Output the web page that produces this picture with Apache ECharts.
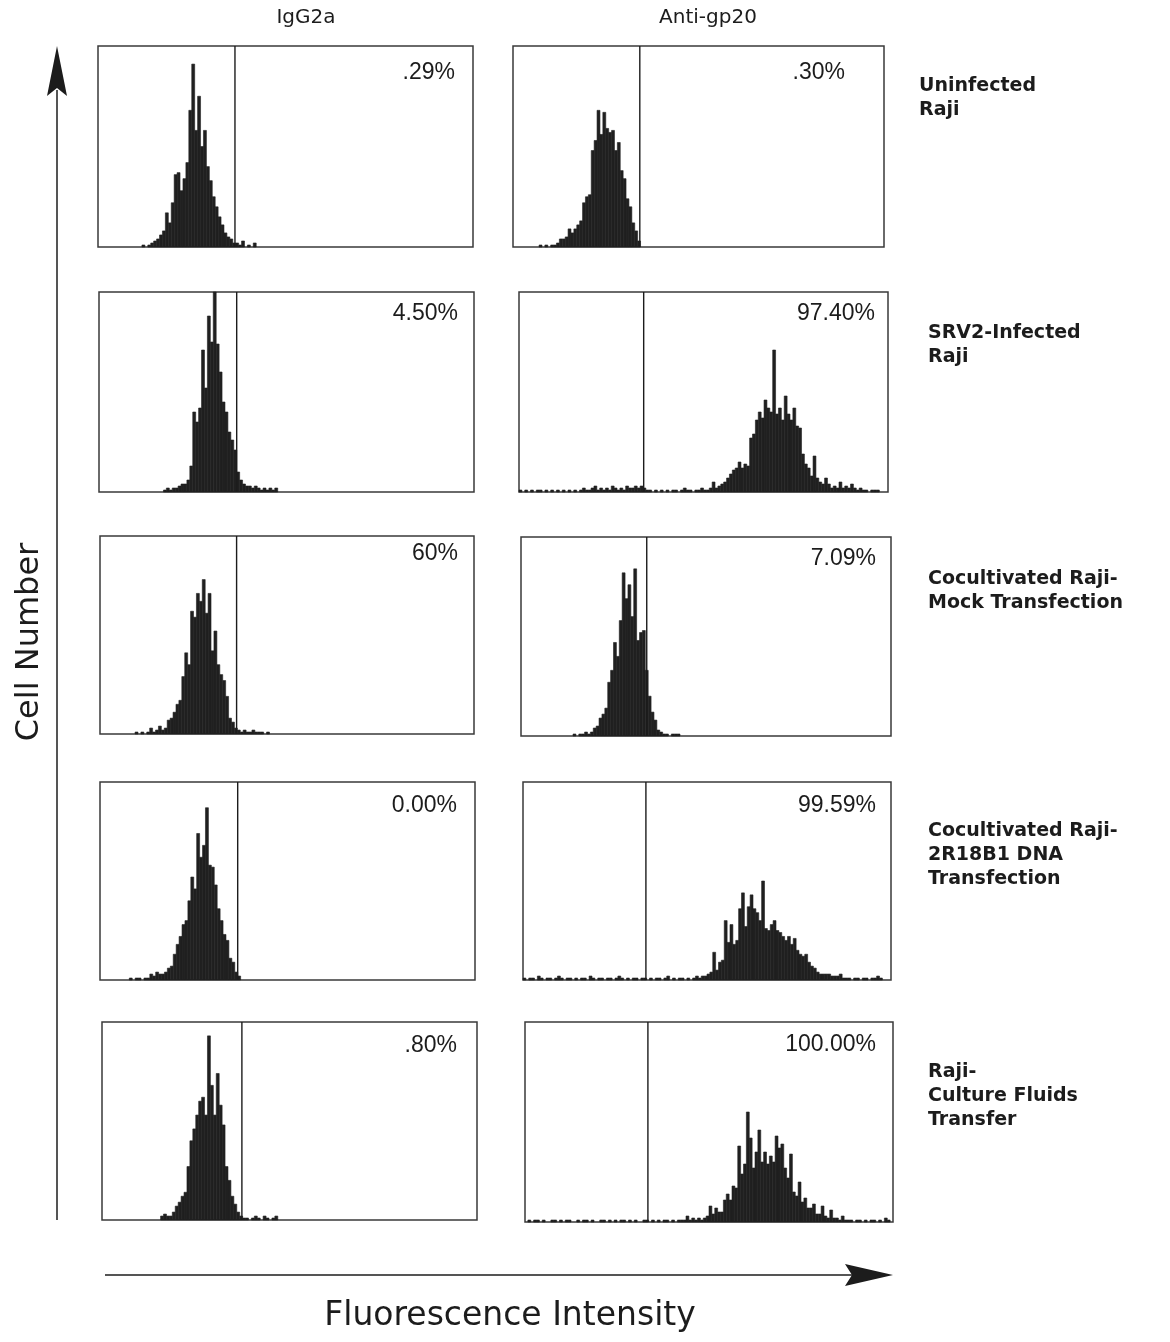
<!DOCTYPE html>
<html>
<head>
<meta charset="utf-8">
<script src="https://cdn.jsdelivr.net/npm/echarts@6/dist/echarts.min.js"></script>
<style>
  html, body { margin: 0; padding: 0; background: #ffffff; }
  #chart { width: 1170px; height: 1342px; }
</style>
</head>
<body>
<div id="chart"></div>
<script>
// ---------------- DATA ----------------
const CHANNELS = 256;      // fluorescence channel range of each panel
const BIN = 2;             // channels per histogram bin
const HEIGHT_MAX = 100;    // cell count, % of panel full scale

const columnLabels = ['IgG2a', 'Anti-gp20'];
const rowLabels = [
  'Uninfected\nRaji',
  'SRV2-Infected\nRaji',
  'Cocultivated Raji-\nMock Transfection',
  'Cocultivated Raji-\n2R18B1 DNA\nTransfection',
  'Raji-\nCulture Fluids\nTransfer'
];
const percentLabels = ['.29%', '.30%', '4.50%', '97.40%', '60%', '7.09%', '0.00%', '99.59%', '.80%', '100.00%'];
const gateChannels = [93.5, 87.5, 94, 86.5, 93.5, 87, 94, 85.5, 95.5, 85.5];
const binStarts = [30, 18, 44, 0, 24, 36, 20, 0, 40, 0];

const histIgG2aUninfected = [1,0,1,2,3,4,6,8,17,12,22,36,37,28,34,42,68,91,58,75,50,58,40,33,25,20,15,11,7,5,4,2,2,1,3,0,1,0,2];
const histGp20Uninfected = [1,0,1,0,1,1,2,4,4,5,9,7,9,11,13,22,25,26,48,53,68,56,67,59,57,58,48,52,38,34,24,20,12,8,3];
const histIgG2aSRV2 = [1,2,1,2,2,3,4,4,6,13,40,35,42,71,52,88,75,100,74,60,45,40,30,26,21,10,6,4,3,3,2,3,2,1,2,1,2,1,2];
const histGp20SRV2 = [
  1,0,1,0,1,0,1,1,0,1,0,1,0,1,0,1,0,1,0,1,0,1,
  2,1,1,2,3,1,2,1,2,1,3,2,1,2,1,3,2,2,3,2,3,2,1,1,0,1,0,1,0,1,0,1,1,0,1,2,1,1,0,1,1,2,1,1,2,
  5,2,3,4,5,7,9,11,12,15,12,14,13,27,29,36,40,37,46,42,40,71,39,42,36,48,39,36,42,33,
  32,19,14,12,8,18,7,5,4,7,4,2,3,2,5,2,3,2,4,2,1,2,1,1,0,1,1,1
];
const histIgG2aMock = [1,0,1,0,1,3,1,2,4,2,3,7,8,11,15,17,29,41,35,62,59,71,67,78,61,71,42,52,35,30,27,19,8,6,3,2,1,2,1,1,2,1,1,1,0,1];
const histGp20Mock = [1,0,1,1,2,1,2,4,5,9,11,14,27,33,47,40,58,82,69,76,60,84,48,52,53,33,20,12,8,3,2,1,1,0,1,1,1];
const histIgG2aDNA = [1,0,1,1,0,1,1,3,2,4,3,3,4,6,7,13,18,22,28,30,40,52,46,74,62,68,87,58,57,48,36,30,23,20,11,9,4,2];
const histGp20DNA = [
  1,0,1,1,0,2,1,0,1,1,0,1,2,1,0,1,1,0,1,0,1,1,0,2,1,0,1,1,0,1,
  1,0,1,2,1,0,1,0,1,1,0,1,1,0,1,0,1,1,0,1,2,0,1,0,1,1,0,1,0,1,
  2,1,2,2,3,4,14,5,9,10,30,19,28,18,20,36,44,27,37,43,36,34,30,50,26,25,28,30,25,24,
  22,20,22,18,21,15,13,12,13,9,7,6,4,3,3,3,3,2,2,2,3,1,1,1,0,1,1,0,1,1,0,1,1,2,1
];
const histIgG2aFluids = [2,3,2,2,4,7,9,12,14,27,40,46,53,60,62,53,93,68,53,74,58,48,27,20,12,8,4,2,1,1,0,1,2,1,0,2,1,0,1,2];
const histGp20Fluids = [
  0,1,0,1,1,0,1,0,0,1,1,0,1,0,1,1,0,0,1,0,1,1,0,1,0,0,1,1,0,1,
  0,1,0,1,1,0,1,0,1,0,0,1,1,0,1,0,1,0,1,1,0,1,0,1,1,
  1,3,1,2,1,2,1,2,3,8,4,7,5,5,11,14,11,18,17,38,24,29,55,42,27,35,46,30,35,29,
  33,30,43,37,39,27,22,34,15,13,20,10,12,7,7,9,4,4,8,3,2,6,2,2,1,3,1,1,1,0,
  1,1,0,1,0,1,1,0,1,0,2,1
];

const panelHistograms = [
  histIgG2aUninfected, histGp20Uninfected,
  histIgG2aSRV2, histGp20SRV2,
  histIgG2aMock, histGp20Mock,
  histIgG2aDNA, histGp20DNA,
  histIgG2aFluids, histGp20Fluids
];

// ---------------- LAYOUT (pixels) ----------------
const panelRects = [
  [98, 46, 375, 201], [513, 46, 371, 201],
  [99, 292, 375, 200], [519, 292, 369, 200],
  [100, 536, 374, 198], [521, 537, 370, 199],
  [100, 782, 375, 198], [523, 782, 368, 198],
  [102, 1022, 375, 198], [525, 1022, 368, 200]
];
const percentAnchors = [
  [455, 73], [845, 73], [458, 314], [875, 314], [458, 554],
  [876, 559], [457, 806], [876, 806], [457, 1046], [876, 1045]
];
const rowLabelAnchors = [[919, 74], [928, 321], [928, 567], [928, 819], [928, 1060]];
const columnLabelAnchors = [[306, 18], [708, 18]];

const INK = '#1c1c1c';

// ---------------- OPTION ----------------
const grids = [], xAxes = [], yAxes = [], series = [];
panelHistograms.forEach((hist, i) => {
  const r = panelRects[i];
  grids.push({
    show: true, left: r[0], top: r[1], width: r[2], height: r[3],
    borderColor: '#3a3a3a', borderWidth: 1.5, backgroundColor: 'transparent', containLabel: false
  });
  xAxes.push({ type: 'value', gridIndex: i, min: 0, max: CHANNELS, show: false });
  yAxes.push({ type: 'value', gridIndex: i, min: 0, max: HEIGHT_MAX, show: false });
  const pts = hist.map((v, k) => [binStarts[i] + k * BIN, v]);
  series.push({
    type: 'custom', xAxisIndex: i, yAxisIndex: i, silent: true,
    data: pts,
    renderItem: function (params, api) {
      const x = api.value(0), y = api.value(1);
      if (!y) { return null; }
      const p0 = api.coord([x, y]);
      const p1 = api.coord([x + BIN, 0]);
      return {
        type: 'rect',
        shape: { x: p0[0], y: p0[1], width: p1[0] - p0[0], height: p1[1] - p0[1] },
        style: { fill: '#202020', stroke: '#202020', lineWidth: 0.6 }
      };
    }
  });
  series.push({
    type: 'line', xAxisIndex: i, yAxisIndex: i, silent: true, symbol: 'none',
    data: [[gateChannels[i], 0], [gateChannels[i], HEIGHT_MAX]],
    lineStyle: { color: INK, width: 1.4 }, animation: false
  });
});

const graphics = [];
percentLabels.forEach((t, i) => {
  graphics.push({
    type: 'text', x: percentAnchors[i][0], y: percentAnchors[i][1],
    style: { text: t, fill: INK, font: '23px "Liberation Sans", Arial, sans-serif',
             textAlign: 'right', textVerticalAlign: 'middle' }
  });
});
rowLabels.forEach((t, i) => {
  graphics.push({
    type: 'text', x: rowLabelAnchors[i][0], y: rowLabelAnchors[i][1],
    style: { text: t, fill: INK, font: 'bold 19px "DejaVu Sans", sans-serif',
             lineHeight: 24, textAlign: 'left', textVerticalAlign: 'top' }
  });
});
columnLabels.forEach((t, i) => {
  graphics.push({
    type: 'text', x: columnLabelAnchors[i][0], y: columnLabelAnchors[i][1],
    style: { text: t, fill: INK, font: '20px "DejaVu Sans", sans-serif',
             textAlign: 'center', textVerticalAlign: 'middle' }
  });
});
// axis titles
graphics.push({
  type: 'text', x: 30, y: 642, rotation: Math.PI / 2,
  style: { text: 'Cell Number', fill: INK, font: '32px "DejaVu Sans", sans-serif',
           textAlign: 'center', textVerticalAlign: 'middle' }
});
graphics.push({
  type: 'text', x: 510, y: 1316,
  style: { text: 'Fluorescence Intensity', fill: INK, font: '33px "DejaVu Sans", sans-serif',
           textAlign: 'center', textVerticalAlign: 'middle' }
});
// arrows
graphics.push({ type: 'line', shape: { x1: 57, y1: 1220, x2: 57, y2: 90 }, style: { stroke: INK, lineWidth: 1.5 } });
graphics.push({ type: 'polygon', shape: { points: [[57, 46], [47, 96], [57, 88], [67, 96]] }, style: { fill: INK } });
graphics.push({ type: 'line', shape: { x1: 105, y1: 1275, x2: 852, y2: 1275 }, style: { stroke: INK, lineWidth: 1.5 } });
graphics.push({ type: 'polygon', shape: { points: [[893, 1275], [845, 1264], [852, 1275], [845, 1286]] }, style: { fill: INK } });

const chart = echarts.init(document.getElementById('chart'), null, { renderer: 'canvas' });
chart.setOption({
  backgroundColor: '#ffffff',
  animation: false,
  grid: grids,
  xAxis: xAxes,
  yAxis: yAxes,
  series: series,
  graphic: graphics
});
</script>
</body>
</html>
